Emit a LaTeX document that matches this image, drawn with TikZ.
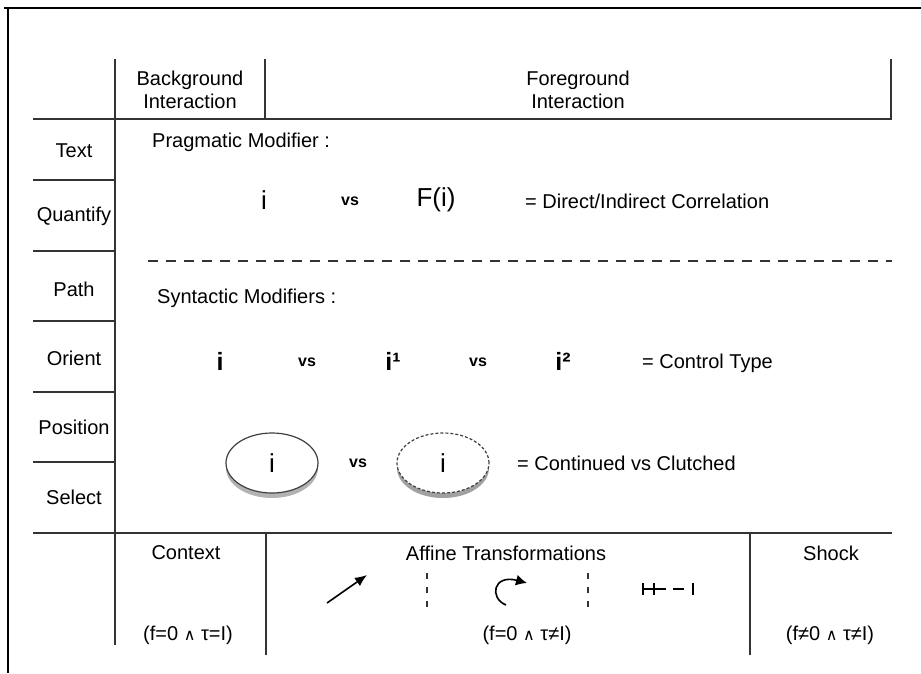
\documentclass[tikz,border=0pt]{standalone}
\usepackage{fontspec}
\setmainfont{Liberation Sans}
\newfontfamily\symfont{DejaVu Sans}
\usetikzlibrary{arrows.meta,shadows,shapes.geometric}

\tikzset{
  rule/.style={line width=1.6pt, black!80},
  lbl/.style={font=\fontsize{20}{23}\selectfont, align=center, inner sep=0pt},
  big/.style={font=\fontsize{26}{28}\selectfont, inner sep=0pt},
  bigb/.style={font=\fontsize{25}{28}\selectfont\bfseries, inner sep=0pt},
  vsl/.style={font=\fontsize{16}{18}\selectfont\bfseries, inner sep=0pt},
  oval/.style={ellipse, draw=black!75, line width=1.2pt, fill=white,
    minimum width=92pt, minimum height=60pt, inner sep=0pt,
    font=\fontsize{26}{28}\selectfont,
    drop shadow={shadow xshift=0pt, shadow yshift=-5pt, opacity=.6}},
}
\newcommand{\andsym}{{\symfont\fontsize{16}{18}\selectfont ∧}}

\begin{document}
\begin{tikzpicture}[x=1pt,y=-1pt]
  \useasboundingbox (0,0) rectangle (921,673);
  % outer frame
  \draw[line width=1.2pt] (4,8) -- (921,8);
  \draw[line width=1.2pt] (8,8) -- (8,673);

  % header
  \draw[rule] (115,59) -- (115,645);
  \draw[rule] (265,59) -- (265,119);
  \draw[rule] (33,119) -- (891,119) -- (891,59);
  \node[lbl] (bg) at (190,90) {Background\\Interaction};
  \node[lbl] (fg) at (578,90) {Foreground\\Interaction};

  % rows
  \foreach \y in {180,251,321,392,462}
    \draw[rule] (33,\y) -- (115,\y);
  \foreach \y/\n/\t in {151/text/Text, 216/quant/Quantify, 289/path/Path,
                        358/orient/Orient, 427/pos/Position, 497/sel/Select}
    \node[lbl] (\n) at (74,\y) {\t};

  % pragmatic
  \node[lbl, anchor=west] (prag) at (152,142) {Pragmatic Modifier :};
  \node[big] (i0) at (264,200) {i};
  \node[vsl] (vs0) at (350,201) {vs};
  \node[big] (fi) at (436,200) {F(i)};
  \node[lbl, anchor=west] (corr) at (525,201) {= Direct/Indirect Correlation};
  \draw[rule, dash pattern=on 10pt off 8pt] (148,261) -- (892,261);

  % syntactic
  \node[lbl, anchor=west] (synt) at (157,298) {Syntactic Modifiers :};
  \node[bigb] (j0) at (220,361) {i};
  \node[vsl] (vs1) at (307,362) {vs};
  \node[bigb] (j1) at (393,361) {i¹};
  \node[vsl] (vs2) at (478,362) {vs};
  \node[bigb] (j2) at (563,361) {i²};
  \node[lbl, anchor=west] (ctrl) at (642,363) {= Control Type};

  \node[oval] (cont) at (272,463) {i};
  \node[vsl] (vs3) at (358,463) {vs};
  \node[oval, dash pattern=on 3pt off 2pt, drop shadow={shadow xshift=0pt,
    shadow yshift=-5pt, opacity=.35}] (clut) at (443,463) {i};
  \node[lbl, anchor=west] (cc) at (517,463) {= Continued vs Clutched};

  % bottom
  \draw[rule] (33,533) -- (892,533);
  \draw[rule] (266,533) -- (266,655);
  \draw[rule] (750,533) -- (750,655);
  \node[lbl] (ctx) at (186,553) {Context};
  \node[lbl] (aff) at (506,553) {Affine Transformations};
  \node[lbl] (shock) at (831,553) {Shock};
  \node[lbl] (ctxf) at (188,635) {(f=0 \andsym\ τ=I)};
  \node[lbl] (afff) at (527,635) {(f=0 \andsym\ τ≠I)};
  \node[lbl] (shockf) at (830,635) {(f≠0 \andsym\ τ≠I)};

  \coordinate (tA) at (327,603);
  \coordinate (hA) at (367,575);
  \draw[line width=1.6pt, -{Latex[length=12pt,width=10pt]}] (tA) -- (hA);
  \draw[rule, dash pattern=on 6pt off 8pt] (427,573) -- (427,613);
  \draw[rule, dash pattern=on 6pt off 8pt] (588,573) -- (588,613);
  \draw[line width=1.6pt, -{Latex[length=11pt,width=11pt]}]
    (506,605) .. controls (489,598) and (493,574) .. (527,583);
  \draw[line width=1.3pt] (643,583) -- (643,595) (654,583) -- (654,595)
    (643,589) -- (666,589) (673,589) -- (684,589) (693,583) -- (693,595);
\end{tikzpicture}
\end{document}
